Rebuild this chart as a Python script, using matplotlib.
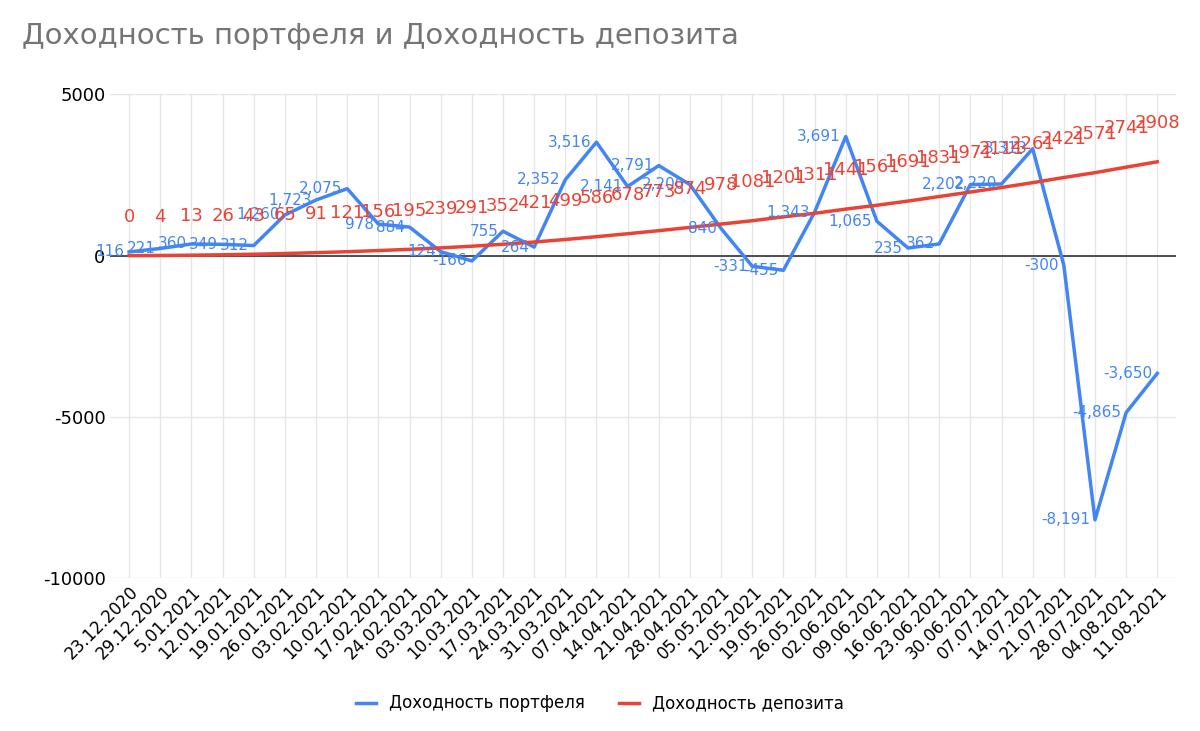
import matplotlib
matplotlib.use("Agg")
import matplotlib.pyplot as plt

dates = ["23.12.2020","29.12.2020","5.01.2021","12.01.2021","19.01.2021","26.01.2021","03.02.2021",
         "10.02.2021","17.02.2021","24.02.2021","03.03.2021","10.03.2021","17.03.2021","24.03.2021",
         "31.03.2021","07.04.2021","14.04.2021","21.04.2021","28.04.2021","05.05.2021","12.05.2021",
         "19.05.2021","26.05.2021","02.06.2021","09.06.2021","16.06.2021","23.06.2021","30.06.2021",
         "07.07.2021","14.07.2021","21.07.2021","28.07.2021","04.08.2021","11.08.2021"]
portfolio = [116,221,360,349,312,1260,1723,2075,978,884,124,-166,755,264,2352,3516,2141,2791,
             2200,840,-331,-455,1343,3691,1065,235,362,2202,2220,3313,-300,-8191,-4865,-3650]
deposit = [0,4,13,26,43,65,91,121,156,195,239,291,352,421,499,586,678,773,874,978,1081,1201,
           1311,1441,1561,1691,1831,1971,2111,2261,2421,2571,2741,2908]

blue = "#4285f4"; red = "#ea4335"
fig = plt.figure(figsize=(12, 7.31), dpi=100)
ax = fig.add_axes([0.092, 0.209, 0.888, 0.662])
x = list(range(len(dates)))
ax.plot(x, portfolio, color=blue, lw=2.5, label="Доходность портфеля", zorder=3)
ax.plot(x, deposit, color=red, lw=2.5, label="Доходность депозита", zorder=3)
for i, v in enumerate(portfolio):
    ax.text(i - 0.15, v, f"{v:,}", color=blue, fontsize=11, ha="right", va="center", zorder=4)
for i, v in enumerate(deposit):
    ax.text(i, v + 1200, str(v), color=red, fontsize=13, ha="center", va="center", zorder=4)
ax.set_ylim(-10000, 5000)
ax.set_xlim(-0.6, len(dates) - 0.4)
ax.set_yticks([-10000, -5000, 0, 5000])
ax.set_yticklabels(["-10000", "-5000", "0", "5000"], fontsize=13)
ax.set_xticks(x)
ax.set_xticklabels(dates, rotation=45, ha="right", rotation_mode="anchor", fontsize=12)
ax.grid(True, color="#e6e6e6", lw=1, zorder=0)
ax.axhline(0, color="#333333", lw=1.2, zorder=2)
for s in ax.spines.values():
    s.set_visible(False)
ax.tick_params(length=0)
fig.text(0.018, 0.94, "Доходность портфеля и Доходность депозита", fontsize=21, color="#757575")
fig.legend(loc="lower center", bbox_to_anchor=(0.5, 0.005), ncol=2, frameon=False, fontsize=12,
           handlelength=1.2)
fig.savefig("out.png", dpi=100)
